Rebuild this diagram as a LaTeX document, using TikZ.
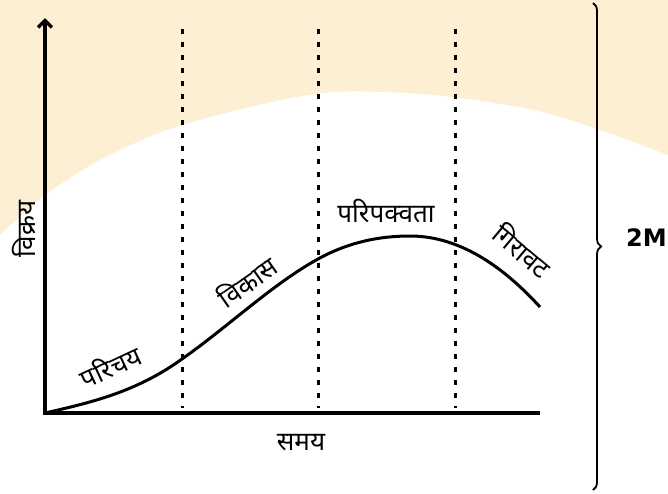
\documentclass[tikz,border=0pt]{standalone}
\usepackage{fontspec}
\newfontfamily\hindi[Script=Devanagari]{Noto Sans}
\newfontfamily\marksfont{DejaVu Sans}
\usepackage{tikz}
\usetikzlibrary{arrows.meta,decorations.pathreplacing}
\definecolor{peach}{RGB}{252,239,212}
\tikzset{
  axis/.style={line width=3.4pt},
  stage/.style={dash pattern=on 5pt off 8pt, line width=3pt},
  curve/.style={line width=3pt, line join=round},
  lbl/.style={font=\hindi\fontsize{26}{30}\selectfont, inner sep=1pt},
  brace/.style={decorate, decoration={brace, amplitude=8pt}, line width=1.8pt}
}
\begin{document}
\begin{tikzpicture}[x=1pt,y=-1pt]
  \useasboundingbox (0,0) rectangle (668,493);
  % faded background
  \fill[peach] (0,0) -- (668,0) -- plot[smooth] coordinates {(668,155) (600,130) (534,110)
    (434,95) (334,92) (250,107) (167,130) (100,160) (45,195) (0,235)} -- cycle;
  % axes
  \coordinate (O) at (45,413);
  \coordinate (ytop) at (45,18);
  \coordinate (xend) at (540,413);
  \draw[axis, {Straight Barb[length=7pt,width=14pt]}-] (ytop) -- (O) -- (xend);
  % stage borders
  \foreach \x in {182,318,455}
    \draw[stage] (\x,29) -- (\x,408);
  % life cycle curve
  \draw[curve] (O) .. controls (90.7,402.6) and (136.3,392) .. (182,359)
    .. controls (227.3,327.3) and (272.7,283.9) .. (318,259)
    .. controls (348.7,242.1) and (379.3,236) .. (410,236)
    .. controls (453.3,236) and (496.7,259.4) .. (540,307);
  % labels
  \node[lbl, rotate=90] (sales) at (24,229) {विक्रय};
  \node[lbl] (time) at (301,443) {समय};
  \node[lbl, rotate=25] (intro) at (110,366) {परिचय};
  \node[lbl, rotate=35] (growth) at (247,281) {विकास};
  \node[lbl] (mature) at (386,211) {परिपक्वता};
  \node[lbl, rotate=-40] (decline) at (523,250) {गिरावट};
  % brace and marks
  \coordinate (btop) at (593,3);
  \coordinate (bbot) at (593,490);
  \draw[brace] (btop) -- (bbot);
  \node[font=\marksfont\bfseries\fontsize{24}{28}\selectfont, anchor=west, inner sep=0pt] (marks) at (626,238) {2M};
\end{tikzpicture}
\end{document}
